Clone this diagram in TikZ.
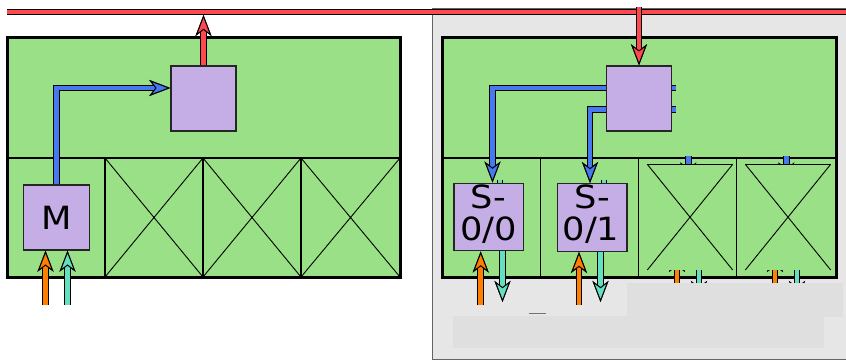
\documentclass[tikz,border=0pt]{standalone}
\usepackage{fontspec}
\newfontfamily\lblfont[FakeStretch=1.1]{DejaVu Sans}
\usetikzlibrary{arrows.meta}
\definecolor{grn}{RGB}{154,224,134}
\definecolor{prp}{RGB}{197,174,230}
\definecolor{blu}{RGB}{70,120,240}
\definecolor{rd}{RGB}{255,72,80}
\definecolor{org}{RGB}{255,128,0}
\definecolor{tea}{RGB}{100,224,192}
\definecolor{pnl}{RGB}{230,230,230}
\definecolor{cov}{RGB}{223,223,223}
\definecolor{pnlborder}{RGB}{100,100,100}
\begin{document}
\begin{tikzpicture}[x=1pt,y=-1pt,
  pipe/.style={line width=4.5pt, draw=#1, preaction={draw=black, line width=6.5pt}},
  headed/.style={-{Stealth[length=21pt,width=16pt,inset=6pt,fill=#1,color=black,line width=1pt]}},
  pbox/.style={draw=black!85, fill=prp, line width=1.4pt, inner sep=0pt,
    minimum width=65pt, minimum height=65pt},
  panel/.style={draw=black, fill=grn, line width=3pt},
  divline/.style={draw=black, line width=1.5pt},
  xline/.style={draw=black, line width=0.9pt},
  lbl/.style={font=\lblfont\fontsize{32}{32}\selectfont, inner sep=0pt, anchor=base},
  cover/.style={fill=cov, draw=none}]
\useasboundingbox (0,0) rectangle (846,361);

% right grey panel
\draw[fill=pnl, draw=pnlborder, line width=1pt] (432.3,9) rectangle (852,359);

% bus
\coordinate (busL) at (7,12);
\coordinate (busR) at (852,12);
\draw[pipe=rd] (busL) -- (busR);

% green panels
\draw[panel] (7,38) rectangle (400,277);
\draw[panel] (442,38) rectangle (836,277);

% left dividers and crosses
\draw[divline] (7,158) -- (400,158);
\foreach \a/\b in {105/203,203/301,301/400}{
  \draw[divline] (\a,158) -- (\a,277);
  \draw[xline] (\a,158) -- (\b,277) (\b,158) -- (\a,277);
}
% right dividers
\draw[divline] (442,158) -- (836,158);
\foreach \a in {540.7,638.7,736.7}{
  \draw[divline] (\a,158) -- (\a,277);
}

% boxes
\node[pbox] (PL) at (203.5,98.5) {};
\node[pbox, minimum width=66pt] (M) at (56.3,217.5) {};
\node[pbox, minimum width=65.5pt] (PR) at (639,98.5) {};
\node[pbox, minimum width=69.5pt, minimum height=67.5pt] (S0) at (488.7,217) {};
\node[pbox, minimum width=69.5pt, minimum height=67.5pt] (S1) at (592.2,217.5) {};

% free ends
\coordinate (tapL) at (203.5,15);
\coordinate (tapR) at (639,7);
\coordinate (oM) at (45.5,305);
\coordinate (tM) at (67.5,305);
\coordinate (oS0) at (480.7,305);
\coordinate (tS0) at (502.5,302);
\coordinate (oS1) at (579,305);
\coordinate (tS1) at (600.5,302);
\coordinate (sS0) at (500.2,179.5);
\coordinate (sS1) at (603.8,180);

% left arrows
\draw[pipe=rd, headed=rd] (PL.north) -- (tapL);
\draw[pipe=blu, headed=blu] ([xshift=0.3pt]M.north) |- ([yshift=10.5pt]PL.west);
\draw[pipe=org, headed=org] (oM) -- (oM |- M.south);
\draw[pipe=tea, headed=tea] (tM) -- (tM |- M.south);

% right arrows
\draw[pipe=rd, headed=rd] (tapR) -- (PR.north);
\draw[pipe=blu, headed=blu] ([yshift=10.5pt]PR.west) -| ([xshift=3.8pt]S0.north);
\draw[pipe=blu, headed=blu] ([yshift=-11pt]PR.west) -| ([xshift=-2.2pt]S1.north);
\draw[pipe=blu] ([yshift=10.5pt]PR.east) -- ++(3.5,0);
\draw[pipe=blu] ([yshift=-11pt]PR.east) -- ++(3.5,0);
\draw[pipe=tea] (sS0) -- (sS0 |- S0.north);
\draw[pipe=tea] (sS1) -- (sS1 |- S1.north);
\draw[pipe=org, headed=org] (oS0) -- (oS0 |- S0.south);
\draw[pipe=tea, headed=tea] (tS0 |- S0.south) -- (tS0);
\draw[pipe=org, headed=org] (oS1) -- (oS1 |- S1.south);
\draw[pipe=tea, headed=tea] (tS1 |- S1.south) -- (tS1);

% hidden cells
\foreach \L in {638.7,736.7}{
  \draw[pipe=blu, headed=blu] (\L+49.6,156) -- (\L+49.6,183.5);
  \draw[pipe=org, headed=org] (\L+38.3,305) -- (\L+38.3,251);
  \draw[pipe=tea, headed=tea] (\L+60.3,251) -- (\L+60.3,302);
  \fill[grn] (\L+8.6,164.3) rectangle (\L+94,270);
  \draw[xline] (\L+8.6,164.3) -- (\L+94,164.3);
  \draw[xline] (\L+8.6,164.3) -- (\L+94,270) (\L+94,164.3) -- (\L+8.6,270);
}

% grey covers
\fill[cover] (626.7,282.7) rectangle (843.3,316.7);
\fill[cover] (452.7,315.5) rectangle (824.3,348.3);
\draw[draw=black!55, line width=1.3pt] (528.7,313.7) -- (545.7,313.7);

% labels
\node[lbl] (lM) at (56.7,229.3) {M};
\node[lbl] (lS0a) at (488.5,208.3) {S-};
\node[lbl] (lS0b) at (488.5,240.7) {0/0};
\node[lbl] (lS1a) at (592.5,208.3) {S-};
\node[lbl] (lS1b) at (591,240.7) {0/1};
\end{tikzpicture}
\end{document}
